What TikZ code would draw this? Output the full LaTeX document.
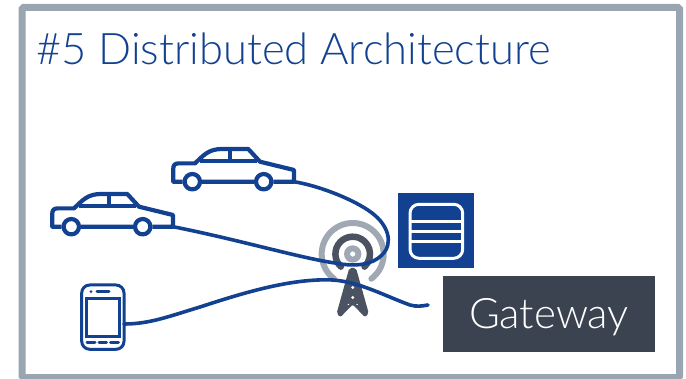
\documentclass[tikz,border=0pt]{standalone}
\usepackage{fontspec}
\setmainfont{Lato Light}
\definecolor{nokiablue}{HTML}{124191}
\definecolor{slatedark}{HTML}{3C4350}
\definecolor{slatemid}{HTML}{4B5261}
\definecolor{slatelight}{HTML}{A0A8B4}
\definecolor{framegrey}{HTML}{9AA5B2}
\tikzset{
link/.style={draw=nokiablue,line width=3.6pt,line cap=round},
icon/.style={draw=nokiablue,line width=4.2pt,line join=round},
car/.pic={
	\draw[icon,fill=white] (-92.3,0) -- (-40,0) (-20.7,0) -- (0,0) -- (0,11.7) -- (-34,20) -- (-45.7,32.7) -- (-72,32.7)
		.. controls (-85,32.7) and (-90,27) .. (-99,18.3) -- (-115.7,18.3)
		.. controls (-119,18.3) and (-120.7,16.5) .. (-120.7,13.3) -- (-120.7,0) -- (-111.3,0);
	\draw[icon] (-94,21) -- (-37.3,21) (-64,32.7) -- (-64,21);
	\draw[icon] (-101.7,0) circle (7.7);
	\draw[icon] (-30.3,0) circle (7.7);
}
}
\begin{document}
\begin{tikzpicture}
[x=1pt,y=1pt,
every node/.style={align=center,inner sep=0pt}]

\useasboundingbox (0,0) rectangle (686,378);
\draw[framegrey,line width=7pt,rounded corners=1.5pt] (22,0.5) rectangle (679.5,370.5);

\node[anchor=base west,text=nokiablue,font=\fontsize{43.5}{43.5}\selectfont] (title) at (36,313) {\#5 Distributed Architecture};

% the two cars and the phone
\coordinate (carA) at (294,196.3);
\coordinate (carB) at (173,151.3);
\coordinate (phone) at (124,54);
\pic at (carA) {car};
\pic at (carB) {car};
\draw[nokiablue,line width=3pt,rounded corners=8pt] (81.7,28.7) rectangle (124,93);
\draw[nokiablue,line width=3pt] (86.7,41.3) rectangle (119,79.7);
\fill[nokiablue] (91,86.3) circle (1.5);
\draw[nokiablue,line width=3pt,line cap=round] (97,86.3) -- (109,86.3)
	(87,36) -- (95,36) (99,36) -- (106.5,36) (110.5,36) -- (118.5,36);

% the tower
\coordinate (tower) at (352.7,124);
\fill[slatemid,rounded corners=2pt] (349.3,110) -- (356,110) -- (368.8,64.5) -- (365,60.8) -- (352.7,73.5) -- (340.4,60.8) -- (336.6,64.5) -- cycle;
\fill[white] (352.7,90.5) circle (1.6) (352.7,80.5) circle (1.6) (348.3,73.5) circle (0.7) (357.1,73.5) circle (0.7);
\draw[slatelight,line width=6pt,line cap=round] (tower) ++(233:31) arc[start angle=233,end angle=-53,radius=31];
\draw[slatemid,line width=6.5pt,line cap=round] (tower) ++(227:17.3) arc[start angle=227,end angle=-47,radius=17.3];
\fill[slatelight,even odd rule] (tower) circle (8.7) (tower) circle (2.7);

% the store
\node[fill=nokiablue,minimum width=75.7pt,minimum height=74.4pt] (store) at (436.2,147.5) {};
\draw[white,line width=3pt,rounded corners=9pt] (410,119.7) rectangle (462.7,173.7);
\draw[white,line width=3pt] (410,156.3) -- (462.7,156.3) (410,146.3) -- (462.7,146.3) (410,136.3) -- (462.7,136.3);

\node[fill=slatedark,text=white,minimum width=212pt,minimum height=76pt,text height=32pt,text depth=4pt,font=\fontsize{42}{42}\selectfont] (gateway) at (549,64) {Gateway};
\coordinate (gatewayin) at (428,73);

\draw[link] (carA) .. controls (320,192) and (355,178) .. (372,165)
	.. controls (388,153) and (394,135) .. (382,123)
	.. controls (372,113) and (355,111) .. (335,115)
	.. controls (300,120) and (240,138) .. (carB);
\draw[link] (phone) .. controls (150,54) and (170,62) .. (200,71)
	.. controls (240,84) and (290,100) .. (333,98)
	.. controls (360,96) and (385,82) .. (410,73)
	.. controls (417,71) and (422,72) .. (gatewayin);
\end{tikzpicture}
\end{document}
